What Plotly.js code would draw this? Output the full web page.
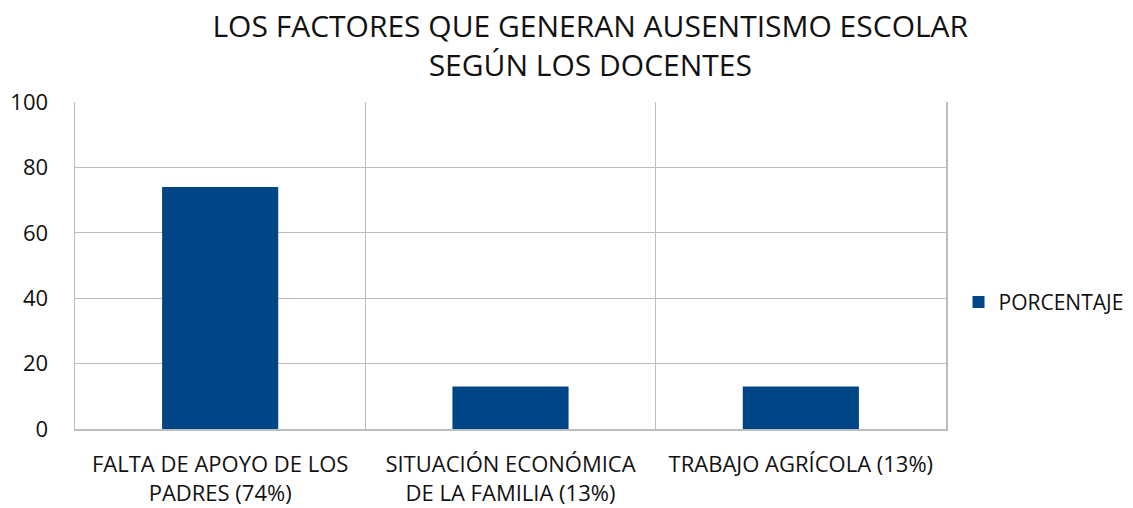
<!DOCTYPE html>
<html>
<head>
<meta charset="utf-8">
<script src="https://cdn.plot.ly/plotly-3.0.1.min.js"></script>
<style>html,body{margin:0;padding:0;background:#fff;}#chart{width:1133px;height:508px;}</style>
</head>
<body>
<div id="chart"></div>
<script>
const categories = ["FALTA DE APOYO DE LOS PADRES (74%)", "SITUACIÓN ECONÓMICA DE LA FAMILIA (13%)", "TRABAJO AGRÍCOLA (13%)"];
const tickLabels = ["FALTA DE APOYO DE LOS<br>PADRES (74%)", "SITUACIÓN ECONÓMICA<br>DE LA FAMILIA (13%)", "TRABAJO AGRÍCOLA (13%)"];
const seriesName = "PORCENTAJE";
const values = [74, 13, 13];
const yTicks = [0, 20, 40, 60, 80, 100];

const font = "Open Sans, Noto Sans, sans-serif";
const trace = {
  type: "bar",
  x: categories,
  y: values,
  name: seriesName,
  marker: {color: "#004586"},
  showlegend: true
};
const layout = {
  width: 1133, height: 508,
  margin: {l: 75, r: 187, t: 102, b: 79},
  paper_bgcolor: "#fff", plot_bgcolor: "#fff",
  font: {family: font, color: "#111", size: 22},
  title: {text: "LOS FACTORES QUE GENERAN AUSENTISMO ESCOLAR<br>SEGÚN LOS DOCENTES", font: {size: 30, family: font, color: "#111"}, x: 0.521, xref: "container", xanchor: "center", y: 0.928, yref: "container", yanchor: "middle"},
  bargap: 0.6,
  xaxis: {
    type: "category",
    tickvals: categories, ticktext: tickLabels,
    tickson: "boundaries",
    showgrid: true, gridcolor: "#bdbdbd", gridwidth: 1,
    ticks: "", showline: true, linecolor: "#bdbdbd", linewidth: 1.5,
    ticklabelstandoff: 15,
    tickfont: {size: 22, family: font, color: "#111"},
    fixedrange: true
  },
  yaxis: {
    range: [0, 100], tickvals: yTicks, ticktext: yTicks.map(String),
    showgrid: true, gridcolor: "#bdbdbd", gridwidth: 1,
    showline: true, linecolor: "#bdbdbd", linewidth: 1.5, mirror: true,
    zeroline: false, ticks: "", ticklabelstandoff: 21,
    tickfont: {size: 22, family: font, color: "#111"},
    fixedrange: true
  },
  legend: {xref: "container", x: 0.846, xanchor: "left", yref: "container", y: 0.405, yanchor: "middle", font: {size: 21, family: font, color: "#111"}, itemwidth: 30, borderwidth: 0, bgcolor: "rgba(0,0,0,0)"},
  showlegend: true
};
Plotly.newPlot("chart", [trace], layout, {displayModeBar: false, staticPlot: true});
</script>
</body>
</html>
